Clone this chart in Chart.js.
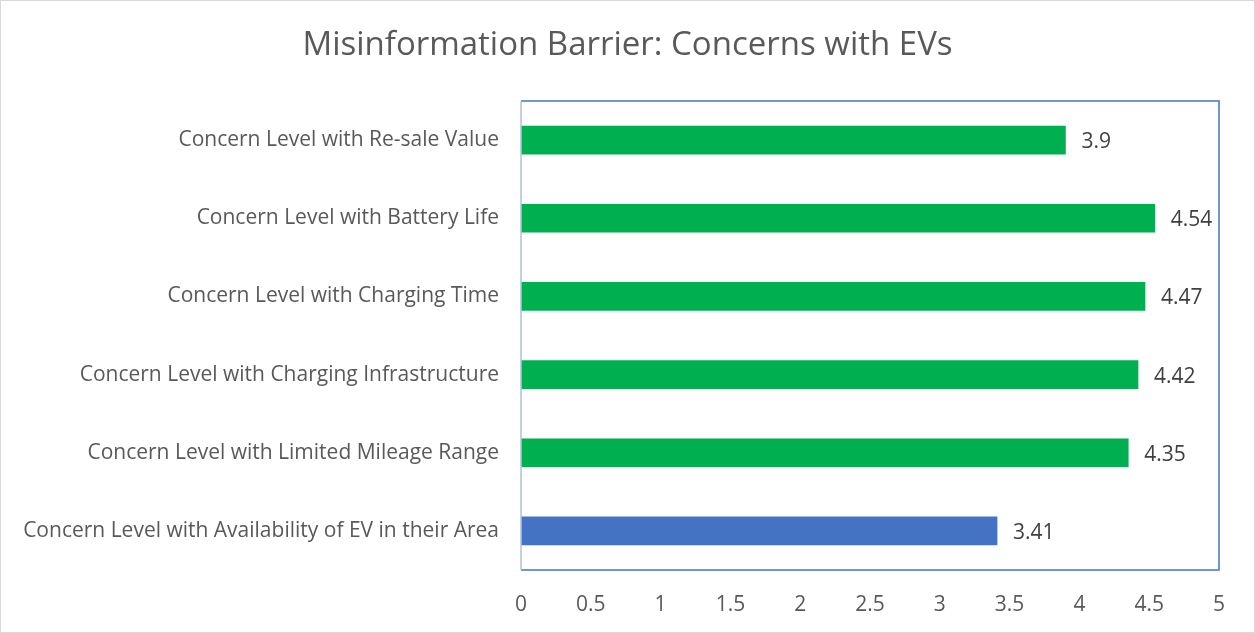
<!DOCTYPE html>
<html>
<head>
<meta charset="utf-8">
<script src="https://cdn.jsdelivr.net/npm/chart.js@4"></script>
<style>
  html, body { margin: 0; padding: 0; background: #fff; }
  #wrap { width: 1255px; height: 633px; }
</style>
</head>
<body>
<div id="wrap"><canvas id="barChart"></canvas></div>
<script>
var chartTitle = "Misinformation Barrier: Concerns with EVs";
var categories = [
  "Concern Level with Re-sale Value",
  "Concern Level with Battery Life",
  "Concern Level with Charging Time",
  "Concern Level with Charging Infrastructure",
  "Concern Level with Limited Mileage Range",
  "Concern Level with Availability of EV in their Area"
];
var values = [3.9, 4.54, 4.47, 4.42, 4.35, 3.41];
var barColors = ["#00B050", "#00B050", "#00B050", "#00B050", "#00B050", "#4472C4"];
var xTicks = [0, 0.5, 1, 1.5, 2, 2.5, 3, 3.5, 4, 4.5, 5];

var FONT = "'Open Sans', sans-serif";
var TEXT = "#595959";

// title centred on the whole canvas, value labels, plot frame, outer border
var extras = {
  id: 'extras',
  afterDatasetsDraw: function (chart) {
    var ctx = chart.ctx;
    var meta = chart.getDatasetMeta(0);
    ctx.save();
    ctx.font = "21px " + FONT;
    ctx.fillStyle = "#404040";
    ctx.textAlign = "left";
    ctx.textBaseline = "middle";
    meta.data.forEach(function (bar, i) {
      ctx.fillText(String(values[i]), bar.x + 16, bar.y + 2);
    });
    ctx.restore();
  },
  afterDraw: function (chart) {
    var ctx = chart.ctx;
    var a = chart.chartArea;
    ctx.save();
    ctx.font = "33px " + FONT;
    ctx.fillStyle = TEXT;
    ctx.textAlign = "center";
    ctx.textBaseline = "middle";
    ctx.fillText(chartTitle, chart.width / 2, 46);

    ctx.strokeStyle = "#4472C4";
    ctx.lineWidth = 1.5;
    ctx.beginPath();
    ctx.moveTo(a.left, a.top);
    ctx.lineTo(a.right, a.top);
    ctx.lineTo(a.right, a.bottom);
    ctx.lineTo(a.left, a.bottom);
    ctx.stroke();
    ctx.strokeStyle = "#B4C0DA";
    ctx.beginPath();
    ctx.moveTo(a.left, a.top);
    ctx.lineTo(a.left, a.bottom);
    ctx.stroke();
    ctx.strokeStyle = "#D9D9D9";
    ctx.lineWidth = 1;
    ctx.strokeRect(0.5, 0.5, chart.width - 1, chart.height - 1);
    ctx.restore();
  }
};

var ctx = document.getElementById("barChart").getContext('2d');
var myBarChart = new Chart(ctx, {
  type: 'bar',
  data: {
    labels: categories,
    datasets: [{
      data: values,
      backgroundColor: barColors,
      borderWidth: 0,
      barThickness: 28
    }]
  },
  plugins: [extras],
  options: {
    indexAxis: 'y',
    responsive: true,
    maintainAspectRatio: false,
    animation: false,
    layout: { padding: { left: 0, right: 36, top: 101, bottom: 0 } },
    plugins: {
      legend: { display: false },
      tooltip: { enabled: false },
      title: { display: false }
    },
    scales: {
      x: {
        min: 0,
        max: 5,
        afterBuildTicks: function (scale) {
          scale.ticks = xTicks.map(function (v) { return { value: v }; });
        },
        afterFit: function (scale) { scale.height = 63; },
        grid: { display: false, drawTicks: false },
        border: { display: false },
        ticks: {
          color: TEXT,
          font: { family: FONT, size: 21 },
          padding: 22,
          maxRotation: 0,
          autoSkip: false,
          callback: function (v) { return String(v); }
        }
      },
      y: {
        afterFit: function (scale) { scale.width = 521; },
        grid: { display: false, drawTicks: false },
        border: { display: false },
        ticks: {
          color: TEXT,
          font: { family: FONT, size: 21 },
          padding: 22
        }
      }
    }
  }
});
</script>
</body>
</html>
